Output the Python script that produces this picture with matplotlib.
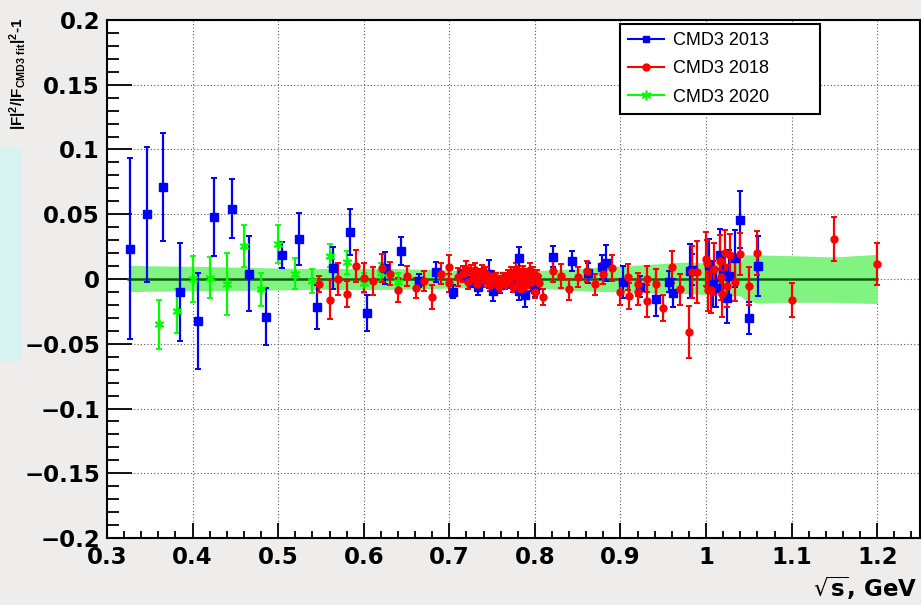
import matplotlib
matplotlib.use("Agg")
import matplotlib.pyplot as plt
from matplotlib import ticker
from matplotlib.patches import Rectangle
from matplotlib.lines import Line2D

# CMD3 2013 (blue squares)
blue_x = [0.327, 0.347, 0.366, 0.385, 0.406, 0.425, 0.446, 0.466, 0.486, 0.505,
          0.524, 0.545, 0.564, 0.584, 0.604, 0.625, 0.643, 0.664, 0.684, 0.704,
          0.715, 0.726, 0.733, 0.740, 0.746, 0.751, 0.759, 0.765, 0.771, 0.776,
          0.781, 0.781, 0.788, 0.795, 0.800, 0.821, 0.843, 0.862, 0.878, 0.883,
          0.903, 0.923, 0.941, 0.957, 0.961, 0.981, 0.984, 1.004, 1.008, 1.012,
          1.016, 1.020, 1.025, 1.027, 1.034, 1.040, 1.050, 1.061]
blue_y = [0.0233, 0.050, 0.071, -0.010, -0.0326, 0.048, 0.0543, 0.004, -0.029, 0.0186,
          0.031, -0.0217, 0.0085, 0.0364, -0.0264, 0.0085, 0.0217, -0.0015, 0.0054, -0.010,
          0.003, -0.001, -0.006, 0.002, 0.004, -0.009, -0.005, 0.000, -0.001, -0.004,
          0.016, -0.0093, -0.0124, -0.003, -0.008, 0.0171, 0.014, 0.0047, 0.0093, 0.0124,
          -0.0023, -0.006, -0.0155, -0.002, -0.011, 0.006, 0.007, 0.011, -0.004, -0.007,
          0.0186, 0.003, -0.015, 0.0023, 0.016, 0.0457, -0.030, 0.010]
blue_err = [0.070, 0.052, 0.042, 0.038, 0.037, 0.030, 0.023, 0.029, 0.022, 0.010,
            0.020, 0.017, 0.016, 0.018, 0.014, 0.012, 0.011, 0.005, 0.008, 0.005,
            0.004, 0.005, 0.006, 0.005, 0.011, 0.008, 0.006, 0.005, 0.006, 0.006,
            0.009, 0.007, 0.009, 0.006, 0.006, 0.008, 0.008, 0.008, 0.009, 0.014,
            0.012, 0.008, 0.013, 0.008, 0.011, 0.021, 0.012, 0.020, 0.018, 0.015,
            0.020, 0.016, 0.019, 0.020, 0.022, 0.022, 0.0125, 0.023]

# CMD3 2018 (red circles)
red_x = [0.548, 0.560, 0.570, 0.580, 0.591, 0.600, 0.611, 0.621, 0.631, 0.640,
         0.650, 0.661, 0.670, 0.680, 0.690, 0.700, 0.700, 0.710,
         0.716, 0.720, 0.722, 0.725, 0.728, 0.730, 0.732, 0.735, 0.738, 0.740,
         0.743, 0.745, 0.748, 0.750, 0.752, 0.755, 0.758, 0.760, 0.763, 0.765,
         0.768, 0.770, 0.772, 0.774, 0.776, 0.778, 0.780, 0.782, 0.784, 0.786,
         0.788, 0.790, 0.792, 0.794, 0.796, 0.798, 0.800, 0.803, 0.805,
         0.810, 0.821, 0.830, 0.840, 0.850, 0.861, 0.870, 0.879, 0.890, 0.900,
         0.909, 0.910, 0.920, 0.920, 0.931, 0.931, 0.941, 0.950, 0.960, 0.970,
         0.980, 0.983, 0.990, 1.000, 1.001, 1.002, 1.006, 1.009, 1.016, 1.017,
         1.019, 1.022, 1.024, 1.028, 1.034, 1.040, 1.050, 1.059, 1.100, 1.150, 1.200]
red_y = [-0.004, -0.016, 0.000, -0.0114, 0.010, 0.001, -0.0015, 0.0085, 0.004, -0.0085,
         0.0023, -0.007, -0.0015, -0.014, 0.004, 0.0093, -0.003, 0.0015,
         0.004, 0.008, -0.002, 0.006, 0.001, 0.007, -0.004, 0.003, 0.006, -0.001,
         0.004, 0.000, -0.005, 0.002, -0.003, 0.001, -0.006, -0.002, 0.001, -0.004,
         0.003, -0.001, 0.005, -0.006, 0.002, 0.008, -0.003, 0.004, -0.008, 0.006,
         0.000, -0.005, 0.003, 0.007, -0.002, 0.004, -0.010, 0.002, -0.003,
         -0.014, 0.006, 0.0023, -0.008, 0.0015, 0.006, -0.004, 0.004, 0.0085, -0.010,
         0.0015, -0.013, -0.010, -0.004, 0.000, -0.017, -0.004, -0.0225, 0.0093, -0.008,
         -0.041, 0.0054, 0.0054, 0.0155, 0.012, -0.0085, -0.0085, 0.0078, 0.014, 0.0015,
         -0.0116, 0.020, -0.0054, 0.0186, -0.002, 0.0194, -0.0054, 0.020, -0.0163, 0.031, 0.0116]
red_err = [0.006, 0.015, 0.012, 0.010, 0.0125, 0.011, 0.011, 0.011, 0.009, 0.009,
           0.008, 0.008, 0.008, 0.009, 0.008, 0.009, 0.007, 0.007,
           0.006, 0.006, 0.006, 0.005, 0.005, 0.005, 0.005, 0.005, 0.005, 0.005,
           0.005, 0.004, 0.004, 0.004, 0.004, 0.004, 0.004, 0.004, 0.004, 0.004,
           0.004, 0.004, 0.004, 0.004, 0.004, 0.004, 0.004, 0.004, 0.004, 0.004,
           0.004, 0.004, 0.005, 0.005, 0.005, 0.005, 0.005, 0.005, 0.005,
           0.006, 0.008, 0.009, 0.008, 0.008, 0.008, 0.008, 0.008, 0.010, 0.010,
           0.010, 0.010, 0.010, 0.009, 0.010, 0.012, 0.012, 0.010, 0.0125, 0.012,
           0.020, 0.020, 0.024, 0.021, 0.018, 0.016, 0.018, 0.020, 0.020, 0.018,
           0.018, 0.018, 0.016, 0.016, 0.015, 0.016, 0.015, 0.017, 0.013, 0.017, 0.016]

# CMD3 2020 (green stars)
green_x = [0.361, 0.382, 0.400, 0.420, 0.440, 0.460, 0.480, 0.500, 0.520, 0.540,
           0.560, 0.580, 0.600, 0.620, 0.640]
green_y = [-0.0349, -0.0248, 0.000, 0.001, -0.004, 0.0256, -0.008, 0.027, 0.004, -0.0015,
           0.018, 0.013, -0.003, 0.005, -0.002]
green_err = [0.019, 0.017, 0.018, 0.016, 0.024, 0.016, 0.013, 0.015, 0.012, 0.009,
             0.009, 0.009, 0.008, 0.007, 0.007]

# fit uncertainty band
band_x = [0.325, 0.35, 0.40, 0.45, 0.50, 0.54, 0.60, 0.64, 0.70, 0.75,
          0.80, 0.85, 0.90, 0.95, 0.97, 1.00, 1.04, 1.045, 1.06, 1.10,
          1.15, 1.20]
band_hi = [0.0106, 0.0102, 0.0098, 0.0092, 0.0085, 0.008, 0.0082, 0.008, 0.007, 0.006,
           0.0065, 0.008, 0.010, 0.012, 0.013, 0.0125, 0.013, 0.0186, 0.0186, 0.018,
           0.017, 0.019]
band_lo = [-0.0098, -0.0095, -0.0092, -0.0088, -0.0085, -0.008, -0.0082, -0.008, -0.007, -0.0065,
           -0.007, -0.009, -0.010, -0.011, -0.011, -0.012, -0.013, -0.016, -0.0186, -0.018,
           -0.018, -0.019]

labels = ['CMD3 2013', 'CMD3 2018', 'CMD3 2020']

plt.rcParams['mathtext.default'] = 'regular'

fig = plt.figure(figsize=(9.21, 6.05), dpi=100)
fig.patch.set_facecolor('#efedeb')
# cyan patch of the slide behind the chart
fig.patches.append(Rectangle((0, 1 - 362 / 605), 22 / 921, 214 / 605,
                             transform=fig.transFigure, facecolor='#d6f3f1',
                             edgecolor='none', zorder=0))

ax = fig.add_axes([107 / 921, 67 / 605, 813 / 921, 518 / 605])
ax.set_facecolor('white')

ax.fill_between(band_x, band_lo, band_hi, color='#80f380', lw=0, zorder=1)
ax.plot([band_x[0], band_x[-1]], [0, 0], color='#0a640a', lw=1.8, zorder=2)

ebkw = dict(ls='none', elinewidth=1.6, capsize=2.5, capthick=1.4, zorder=3)
ax.errorbar(green_x, green_y, yerr=green_err, color='#00ff00', marker=(6, 2, 0),
            ms=7, mew=1.3, **ebkw)
ax.errorbar(blue_x, blue_y, yerr=blue_err, color='#0000ff', marker='s',
            ms=5.5, **ebkw)
ax.errorbar(red_x, red_y, yerr=red_err, color='#ff0000', marker='o',
            ms=5, **ebkw)

ax.set_xlim(0.3, 1.25)
ax.set_ylim(-0.2, 0.2)
ax.xaxis.set_major_locator(ticker.MultipleLocator(0.1))
ax.xaxis.set_minor_locator(ticker.MultipleLocator(0.02))
ax.yaxis.set_major_locator(ticker.MultipleLocator(0.05))
ax.yaxis.set_minor_locator(ticker.MultipleLocator(0.01))
ax.xaxis.set_major_formatter(ticker.FuncFormatter(lambda v, p: '1' if abs(v - 1) < 1e-9 else f"{v:.1f}"))
ax.yaxis.set_major_formatter(ticker.FuncFormatter(
    lambda v, p: '0' if abs(v) < 1e-9 else (f"{v:.2f}".rstrip('0')).replace('-', '\u2212')))

ax.tick_params(axis='x', which='major', direction='in', length=11, width=1.3, pad=6)
ax.tick_params(axis='x', which='minor', direction='in', length=5, width=1.3)
ax.tick_params(axis='y', which='major', direction='in', length=18, width=1.3, pad=5)
ax.tick_params(axis='y', which='minor', direction='in', length=8.5, width=1.3)
for lab in ax.get_xticklabels() + ax.get_yticklabels():
    lab.set_fontfamily('DejaVu Sans')
    lab.set_fontweight('bold')
    lab.set_fontsize(16.5)

ax.grid(True, which='major', color='0.35', ls=(0, (1, 2)), lw=0.8)
ax.set_axisbelow(True)
for s in ax.spines.values():
    s.set_linewidth(1.5)

fig.text(18 / 921, 1 - 74 / 605, r'|F|$^{2}$/|F$_{CMD3\ fit}$|$^{2}$-1', rotation=90,
         ha='center', va='center', fontsize=11, fontweight='bold', family='Liberation Sans')
fig.text(917 / 921, 1 - 588 / 605, r'$\sqrt{\mathbf{s}}$, GeV', ha='right', va='center',
         fontsize=16.5, fontweight='bold', family='DejaVu Sans')

handles = [Line2D([], [], color='#0000ff', marker='s', ms=5, lw=1.5),
           Line2D([], [], color='#ff0000', marker='o', ms=5, lw=1.5),
           Line2D([], [], color='#00ff00', marker=(6, 2, 0), ms=7, mew=1.2, lw=1.5)]
leg = ax.legend(handles, labels,
                loc='upper left', bbox_to_anchor=(620 / 921, 1 - 116 / 605, 200 / 921, 92 / 605),
                bbox_transform=fig.transFigure, mode='expand', borderaxespad=0,
                fancybox=False, framealpha=1, edgecolor='black',
                prop={'family': 'Liberation Sans', 'size': 13},
                handlelength=2.0, handletextpad=0.5, labelspacing=0.62, borderpad=0.45)
leg.get_frame().set_linewidth(1.5)

fig.savefig('out.png', dpi=100, facecolor=fig.get_facecolor())
